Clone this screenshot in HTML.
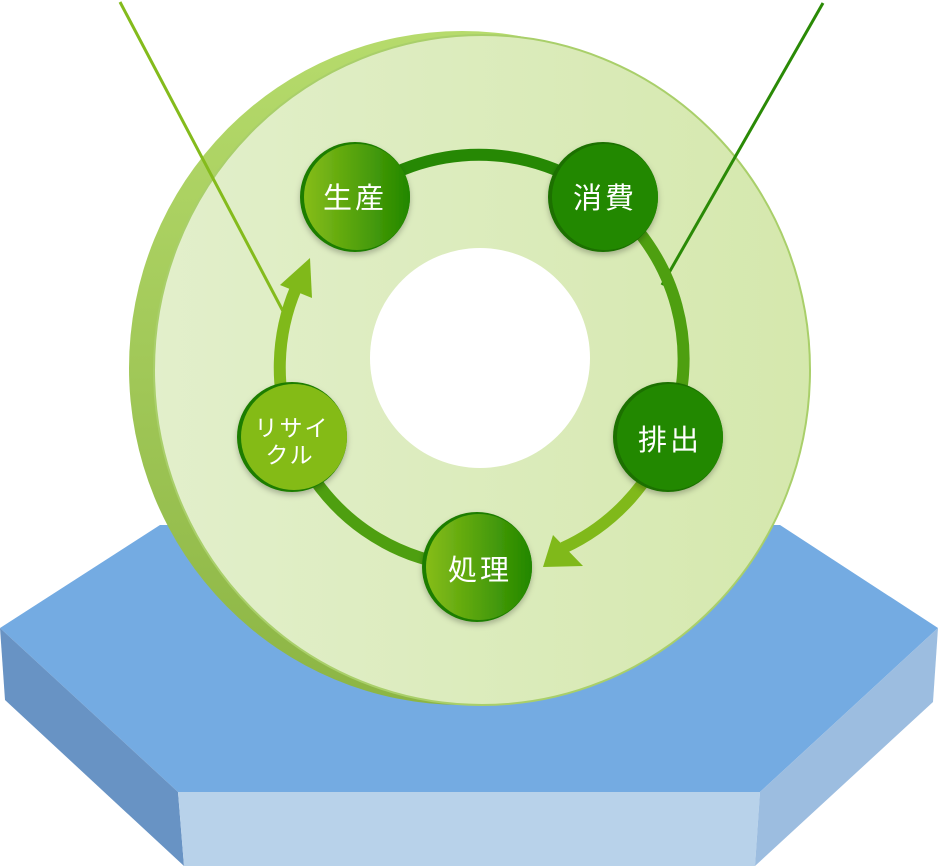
<!DOCTYPE html>
<html><head><meta charset="utf-8"><style>
html,body{margin:0;padding:0;background:#fff;width:938px;height:866px;overflow:hidden}
text{font-family:"Liberation Sans","Noto Sans CJK JP",sans-serif;fill:#fff}
</style></head><body>
<svg width="938" height="866" viewBox="0 0 938 866" xmlns="http://www.w3.org/2000/svg">
<defs>
<linearGradient id="face" x1="0" y1="0" x2="1" y2="0"><stop offset="0" stop-color="#e2efcb"/><stop offset="1" stop-color="#d5e8ad"/></linearGradient>
<linearGradient id="rim" x1="0" y1="0" x2="0" y2="1"><stop offset="0" stop-color="#b6db6c"/><stop offset="1" stop-color="#8cb544"/></linearGradient>
<linearGradient id="n1" x1="0" y1="0" x2="1" y2="0"><stop offset="0" stop-color="#86bd18"/><stop offset="1" stop-color="#228700"/></linearGradient>
<filter id="sh" x="-20%" y="-20%" width="140%" height="140%"><feDropShadow dx="0" dy="3" stdDeviation="3" flood-color="#000" flood-opacity="0.25"/></filter>
</defs>
<!-- hexagon -->
<polygon points="0,628 160,525 780,525 938,628 760,792 178,792" fill="#74abe2"/>
<polygon points="0,628 178,792 184,866 5,700" fill="#6893c4"/>
<polygon points="178,792 760,792 755,866 184,866" fill="#b8d2ea"/>
<polygon points="760,792 938,628 933,702 755,866" fill="#9cbde0"/>
<!-- disk -->
<ellipse cx="462" cy="368" rx="333" ry="337" fill="url(#rim)"/>
<ellipse cx="482" cy="370" rx="328" ry="335" fill="url(#face)" stroke="#a9cf6a" stroke-width="2"/>
<circle cx="480" cy="358" r="110" fill="#fff"/>
<!-- lines -->
<line x1="120" y1="2" x2="285" y2="315" stroke="#84bb1c" stroke-width="3"/>
<line x1="823" y1="3" x2="662" y2="285" stroke="#2a8a06" stroke-width="3"/>
<!-- ring -->
<path d="M355,197 A203,203 0 0 1 603,197" fill="none" stroke="#268804" stroke-width="12"/>
<path d="M603,197 A203,203 0 0 1 668,437" fill="none" stroke="#4e9f10" stroke-width="12"/>
<path d="M668,437 A203,203 0 0 1 563,548" fill="none" stroke="#80b91a" stroke-width="12"/>
<polygon points="543,567 553,535 583,566" fill="#80b91a"/>
<path d="M477,567 A203,203 0 0 1 292,437" fill="none" stroke="#4e9f10" stroke-width="12"/>
<path d="M292,437 A203,203 0 0 1 296,288" fill="none" stroke="#80b91a" stroke-width="12"/>
<polygon points="310,258 280,285 312,298" fill="#80b91a"/>
<!-- nodes -->
<g filter="url(#sh)">
<circle cx="355" cy="197" r="55" fill="#1f7d00"/><circle cx="357" cy="197" r="53" fill="url(#n1)"/>
<circle cx="603" cy="197" r="55" fill="#1a7000"/><circle cx="605" cy="197" r="53" fill="#248800"/>
<circle cx="668" cy="437" r="55" fill="#1a7000"/><circle cx="670" cy="437" r="53" fill="#248800"/>
<circle cx="477" cy="567" r="55" fill="#1f7d00"/><circle cx="479" cy="567" r="53" fill="url(#n1)"/>
<circle cx="292" cy="437" r="55" fill="#1f7d00"/><circle cx="294" cy="437" r="53" fill="#84bb18"/>
</g>
<text x="355" y="208" font-size="29" text-anchor="middle" letter-spacing="3">生産</text>
<text x="605" y="208" font-size="29" text-anchor="middle" letter-spacing="3">消費</text>
<text x="670" y="450" font-size="29" text-anchor="middle" letter-spacing="3">排出</text>
<text x="480" y="580" font-size="29" text-anchor="middle" letter-spacing="3">処理</text>
<text x="292" y="436" font-size="23" text-anchor="middle" letter-spacing="2">リサイ</text>
<text x="290" y="463" font-size="23" text-anchor="middle" letter-spacing="2">クル</text>
</svg>
</body></html>
